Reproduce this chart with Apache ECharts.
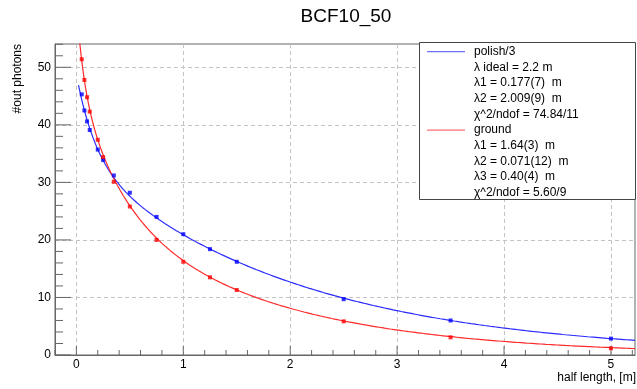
<!DOCTYPE html>
<html>
<head>
<meta charset="utf-8">
<script src="https://cdn.jsdelivr.net/npm/echarts@6/dist/echarts.min.js"></script>
<style>
  html, body { margin: 0; padding: 0; background: #fff; }
  #chart { width: 637px; height: 389px; }
</style>
</head>
<body>
<div id="chart"></div>
<script>
// Measured photon counts versus half length of the fibre
const halfLength = [0.05, 0.075, 0.1, 0.125, 0.2, 0.25, 0.35, 0.5, 0.75, 1.0, 1.25, 1.5, 2.5, 3.5, 5.0];
const polishCounts = [45.3, 42.5, 40.6, 39.1, 35.7, 33.9, 31.2, 28.2, 24.0, 21.0, 18.4, 16.2, 9.7, 6.0, 2.85];
const groundCounts = [51.4, 47.8, 44.8, 42.3, 37.4, 34.4, 30.1, 25.8, 20.0, 16.2, 13.5, 11.3, 5.85, 3.07, 1.16];

// Fit parameters: sum of exponentials  A_i * exp(-x / lambda_i)
const polishAmp = [14.5, 34.3];
const polishLambda = [0.177, 2.009];
const groundAmp = [27.0, 13.0, 21.0];
const groundLambda = [1.64, 0.071, 0.40];
const fitRange = [0.02, 5.225];

// Axis ranges and tick labels
const xRange = [-0.2, 5.225];
const yRange = [0, 54.05];
const xMajor = [0, 1, 2, 3, 4, 5];
const yMajor = [0, 10, 20, 30, 40, 50];
const xMinorStep = 0.2;
const yMinorStep = 2;

// Legend text
const legendRows = [
  'polish/3',
  'λ ideal = 2.2 m',
  'λ1 = 0.177(7)  m',
  'λ2 = 2.009(9)  m',
  'χ^2/ndof = 74.84/11',
  'ground',
  'λ1 = 1.64(3)  m',
  'λ2 = 0.071(12)  m',
  'λ3 = 0.40(4)  m',
  'χ^2/ndof = 5.60/9'
];

function fitCurve(amp, lambda, n) {
  const pts = [];
  for (let i = 0; i <= n; i++) {
    const x = fitRange[0] + (fitRange[1] - fitRange[0]) * i / n;
    let y = 0;
    for (let k = 0; k < amp.length; k++) y += amp[k] * Math.exp(-x / lambda[k]);
    pts.push([x, y]);
  }
  return pts;
}

// Tick marks drawn inward from the bottom and left frame edges.
// item: [value, axis (0 = x, 1 = y), length in px]
function tickItems() {
  const items = [];
  for (let k = 0; ; k++) {
    const v = +(xRange[0] + k * xMinorStep).toFixed(6);
    if (v > xRange[1]) break;
    const major = xMajor.indexOf(v) >= 0;
    items.push([v, 0, major ? 9 : 5]);
  }
  for (let k = 0; ; k++) {
    const v = +(yRange[0] + k * yMinorStep).toFixed(6);
    if (v > yRange[1]) break;
    const major = yMajor.indexOf(v) >= 0;
    items.push([v, 1, major ? 16 : 8]);
  }
  return items;
}

const FONT = '"Liberation Sans", Helvetica, Arial, sans-serif';
const AXIS_COLOR = '#666';
const GRID_COLOR = '#c4c4c4';
const PLOT = { left: 55, right: 2, top: 44, bottom: 34 };

const chart = echarts.init(document.getElementById('chart'), null, { renderer: 'canvas' });

const legendTop = 51.7, rowStep = 15.67;
const legendGraphics = [
  { type: 'rect', shape: { x: 419.5, y: 42.5, width: 216, height: 157 },
    style: { fill: '#fff', stroke: '#444', lineWidth: 1 }, z: 100 },
  { type: 'line', shape: { x1: 427, y1: legendTop, x2: 465, y2: legendTop },
    style: { stroke: '#6f6fff', lineWidth: 1.2 }, z: 101 },
  { type: 'line', shape: { x1: 427, y1: legendTop + 5 * rowStep, x2: 465, y2: legendTop + 5 * rowStep },
    style: { stroke: '#ff6f6f', lineWidth: 1.2 }, z: 101 }
];
legendRows.forEach(function (t, i) {
  legendGraphics.push({
    type: 'text', x: 474, y: legendTop + i * rowStep, z: 101,
    style: { text: t, font: '12px ' + FONT, fill: '#000', verticalAlign: 'middle', align: 'left' }
  });
});

chart.setOption({
  animation: false,
  backgroundColor: '#fff',
  grid: Object.assign({ show: true, borderColor: AXIS_COLOR, borderWidth: 1 }, PLOT),
  xAxis: {
    type: 'value', min: xRange[0], max: xRange[1], position: 'bottom',
    axisLine: { show: true, onZero: false, lineStyle: { color: AXIS_COLOR } },
    axisTick: { show: false, customValues: xMajor },
    axisLabel: { customValues: xMajor, margin: 4, color: '#000', fontSize: 12, fontFamily: FONT },
    splitLine: { show: true, lineStyle: { color: GRID_COLOR, type: [4, 3], width: 1 } }
  },
  yAxis: {
    type: 'value', min: yRange[0], max: yRange[1], position: 'left',
    axisLine: { show: true, onZero: false, lineStyle: { color: AXIS_COLOR } },
    axisTick: { show: false, customValues: yMajor },
    axisLabel: { customValues: yMajor, margin: 4, color: '#000', fontSize: 12, fontFamily: FONT },
    splitLine: { show: true, lineStyle: { color: GRID_COLOR, type: [4, 3], width: 1 } }
  },
  series: [
    {
      name: 'ticks', type: 'custom', silent: true, clip: false, z: 2,
      data: tickItems(),
      encode: { x: -1, y: -1 },
      renderItem: function (params, api) {
        const v = api.value(0), axis = api.value(1), len = api.value(2);
        const p = axis === 0 ? api.coord([v, yRange[0]]) : api.coord([xRange[0], v]);
        const shape = axis === 0
          ? { x1: p[0], y1: p[1], x2: p[0], y2: p[1] - len }
          : { x1: p[0], y1: p[1], x2: p[0] + len, y2: p[1] };
        return { type: 'line', shape: shape, style: { stroke: AXIS_COLOR, lineWidth: 1 } };
      }
    },
    {
      name: 'polish/3 fit', type: 'line',
      data: fitCurve(polishAmp, polishLambda, 400), showSymbol: false, clip: true,
      lineStyle: { color: '#2a2aff', width: 1.2 }, z: 3
    },
    {
      name: 'polish/3', type: 'scatter',
      data: halfLength.map(function (x, i) { return [x, polishCounts[i]]; }),
      symbol: 'rect', symbolSize: 4, itemStyle: { color: '#0000ff' }, z: 4
    },
    {
      name: 'ground fit', type: 'line',
      data: fitCurve(groundAmp, groundLambda, 400), showSymbol: false, clip: true,
      lineStyle: { color: '#ff2a2a', width: 1.2 }, z: 3
    },
    {
      name: 'ground', type: 'scatter',
      data: halfLength.map(function (x, i) { return [x, groundCounts[i]]; }),
      symbol: 'rect', symbolSize: 4, itemStyle: { color: '#ff0000' }, z: 4
    }
  ],
  graphic: [
    { type: 'text', x: 346, y: 17,
      style: { text: 'BCF10_50', font: '19px ' + FONT, fill: '#000', align: 'center', verticalAlign: 'middle' } },
    { type: 'text', x: 636, y: 378,
      style: { text: 'half length, [m]', font: '12px ' + FONT, fill: '#000', align: 'right', verticalAlign: 'middle' } },
    { type: 'text', x: 18, y: 44, rotation: Math.PI / 2,
      style: { text: '#out photons', font: '12px ' + FONT, fill: '#000', align: 'right', verticalAlign: 'middle' } }
  ].concat(legendGraphics)
});
</script>
</body>
</html>
